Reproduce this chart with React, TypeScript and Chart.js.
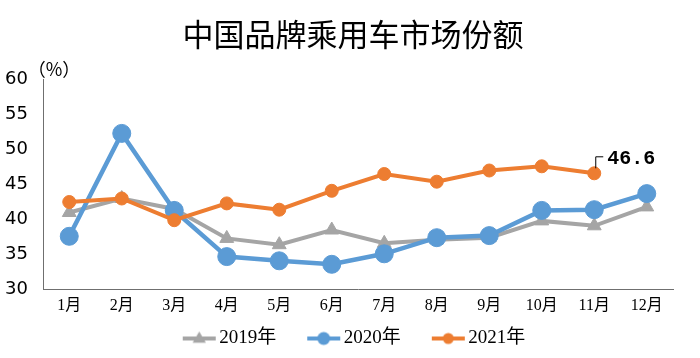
import React, { useEffect, useRef } from "react";
import { Chart, registerables } from "chart.js";

Chart.register(...registerables);

const months = ["1月", "2月", "3月", "4月", "5月", "6月", "7月", "8月", "9月", "10月", "11月", "12月"];
const share2019 = [41.0, 43.0, 41.5, 37.3, 36.4, 38.5, 36.6, 37.1, 37.4, 39.8, 39.1, 41.8];
const share2020 = [37.6, 52.3, 41.3, 34.7, 34.1, 33.6, 35.1, 37.4, 37.7, 41.3, 41.4, 43.7];
const share2021 = [42.5, 43.0, 39.9, 42.3, 41.4, 44.1, 46.5, 45.4, 47.0, 47.6, 46.6];
const seriesNames = ["2019年", "2020年", "2021年"];
const seriesColors = ["#A5A5A5", "#5B9BD5", "#ED7D31"];
const titleText = "中国品牌乘用车市场份额";
const unitText = "（%）";
const labelIndex = 10;
const labelText = "46.6";

function legendIcon(color: string, kind: "triangle" | "circle", r: number) {
  const c = document.createElement("canvas");
  c.width = 62;
  c.height = 20;
  const ctx = c.getContext("2d")!;
  ctx.strokeStyle = color;
  ctx.fillStyle = color;
  ctx.lineWidth = 4;
  ctx.beginPath();
  ctx.moveTo(28, 10);
  ctx.lineTo(61, 10);
  ctx.stroke();
  const cx = 44.5;
  ctx.beginPath();
  if (kind === "circle") {
    ctx.arc(cx, 10, r, 0, Math.PI * 2);
  } else {
    ctx.moveTo(cx, 10 - r);
    ctx.lineTo(cx + r * 0.95, 10 + r * 0.6);
    ctx.lineTo(cx - r * 0.95, 10 + r * 0.6);
    ctx.closePath();
  }
  ctx.fill();
  return c;
}

const extrasPlugin = {
  id: "extras",
  afterDatasetsDraw(chart: any) {
    const { ctx, chartArea } = chart;
    ctx.save();
    ctx.fillStyle = "#000";
    ctx.textAlign = "center";
    ctx.textBaseline = "middle";
    ctx.font = '31px "Noto Sans CJK SC"';
    ctx.fillText(titleText, 353, 34);

    ctx.font = '18px "Noto Sans CJK SC"';
    ctx.fillText(unitText, chartArea.left + 11, chartArea.top - 10);

    const meta = chart.getDatasetMeta(2);
    const pt = meta.data[labelIndex];
    if (pt) {
      const x = pt.x;
      const y = pt.y;
      ctx.strokeStyle = "#000";
      ctx.lineWidth = 1;
      ctx.beginPath();
      ctx.moveTo(x + 1.5, y - 5);
      ctx.lineTo(x + 1.5, y - 16.5);
      ctx.lineTo(x + 9, y - 16.5);
      ctx.stroke();
      ctx.font = 'bold 20px "Liberation Mono"';
      ctx.textAlign = "left";
      ctx.fillText(labelText, x + 13, y - 14.5);
    }
    ctx.restore();
  },
};

export default function App() {
  const ref = useRef<HTMLCanvasElement>(null);
  useEffect(() => {
    const icons = [
      legendIcon(seriesColors[0], "triangle", 7),
      legendIcon(seriesColors[1], "circle", 6.5),
      legendIcon(seriesColors[2], "circle", 5.5),
    ];
    const chart = new Chart(ref.current!, {
      type: "line",
      data: {
        labels: months,
        datasets: [
          {
            label: seriesNames[0],
            data: share2019,
            borderColor: seriesColors[0],
            backgroundColor: seriesColors[0],
            borderWidth: 4,
            pointStyle: "triangle",
            pointRadius: 8,
            pointBorderWidth: 1,
            order: 2,
          },
          {
            label: seriesNames[1],
            data: share2020,
            borderColor: seriesColors[1],
            backgroundColor: seriesColors[1],
            borderWidth: 4.5,
            pointStyle: "circle",
            pointRadius: 9,
            pointBorderWidth: 1,
            order: 1,
          },
          {
            label: seriesNames[2],
            data: share2021,
            borderColor: seriesColors[2],
            backgroundColor: seriesColors[2],
            borderWidth: 4,
            pointStyle: "circle",
            pointRadius: 6.5,
            pointBorderWidth: 1,
            order: 0,
          },
        ],
      },
      options: {
        responsive: false,
        animation: false,
        layout: { padding: { left: 0, right: 13, top: 79.5, bottom: 0 } },
        plugins: {
          tooltip: { enabled: false },
          title: { display: false },
          legend: {
            position: "bottom",
            labels: {
              usePointStyle: true,
              pointStyleWidth: 48,
              padding: 10,
              color: "#000",
              font: { family: '"Liberation Serif", "Noto Sans CJK SC"', size: 19 },
              generateLabels: () =>
                seriesNames.map((name, i) => ({
                  text: name,
                  pointStyle: icons[i],
                  fillStyle: seriesColors[i],
                  strokeStyle: seriesColors[i],
                  lineWidth: 0,
                  hidden: false,
                  datasetIndex: i,
                  fontColor: "#000",
                })),
            },
          },
        },
        scales: {
          x: {
            offset: true,
            grid: { display: true, drawOnChartArea: false, drawTicks: false },
            border: { display: true, color: "#6f6f6f", width: 1 },
            ticks: {
              color: "#000",
              padding: 7,
              maxRotation: 0,
              font: { family: '"Liberation Serif", "Noto Sans CJK SC"', size: 16 },
            },
            afterFit: (s: any) => {
              s.height = 29.5;
            },
          },
          y: {
            min: 30,
            max: 60,
            grid: { display: true, drawOnChartArea: false, drawTicks: false },
            border: { display: true, color: "#6f6f6f", width: 1 },
            ticks: {
              stepSize: 5,
              color: "#000",
              padding: 15,
              font: { family: '"DejaVu Sans"', size: 18 },
            },
            afterFit: (s: any) => {
              s.width = 43;
            },
          },
          yRight: {
            position: "right",
            display: true,
            min: 30,
            max: 60,
            grid: { display: false },
            border: { display: false },
            ticks: { display: false },
            afterFit: (s: any) => {
              s.width = 14;
            },
          },
        },
      },
      plugins: [extrasPlugin],
    });
    return () => chart.destroy();
  }, []);
  return (
    <div style={{ position: "fixed", left: 0, top: 0, width: 700, height: 358, background: "#fff" }}>
      <canvas ref={ref} width={700} height={358} style={{ display: "block" }} />
    </div>
  );
}
